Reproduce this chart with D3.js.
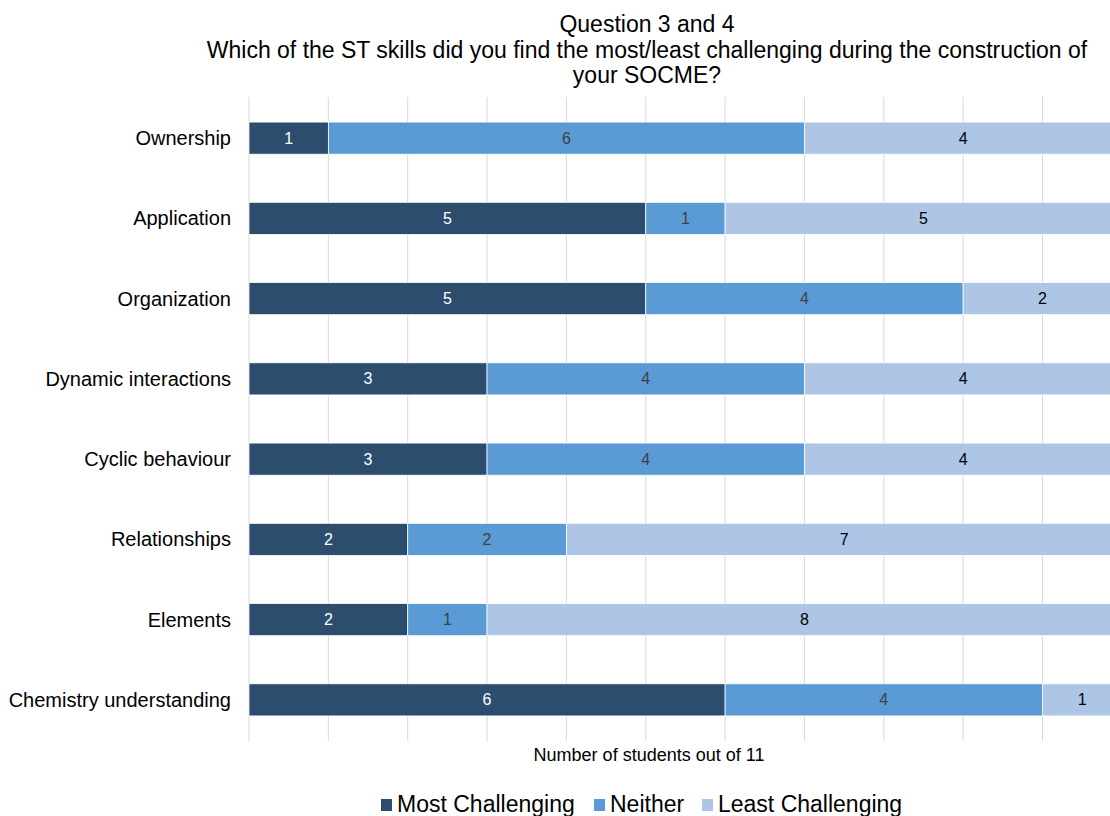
<!DOCTYPE html>
<html><head><meta charset="utf-8">
<script src="https://cdn.jsdelivr.net/npm/d3@7"></script>
<style>body{margin:0;background:#fff;} svg{display:block;font-family:"Liberation Sans",Arial,sans-serif;}</style>
</head><body>
<svg id="c" width="1110" height="816"></svg>
<script>
const categories = ["Ownership","Application","Organization","Dynamic interactions","Cyclic behaviour","Relationships","Elements","Chemistry understanding"];
const mostChallenging = [1,5,5,3,3,2,2,6];
const neither = [6,1,4,4,4,2,1,4];
const leastChallenging = [4,5,2,4,4,7,8,1];
const seriesNames = ["Most Challenging","Neither","Least Challenging"];
const seriesColors = ["#2C4D6E","#5B9BD5","#ADC6E6"];
const labelColors = ["#ffffff","#404040","#000000"];
const xTicks = d3.range(0,12);
const titleLines = ["Question 3 and 4","Which of the ST skills did you find the most/least challenging during the construction of","your SOCME?"];
const xTitle = "Number of students out of 11";

const svg = d3.select("#c");
const x = d3.scaleLinear().domain([0,11]).range([249, 249 + 11*79.35]);
const y = d3.scaleBand().domain(categories).range([98, 740]).paddingInner(0.6).paddingOuter(0.3);

// gridlines
svg.append("g").selectAll("line").data(xTicks).join("line")
  .attr("x1", d=>x(d)).attr("x2", d=>x(d)).attr("y1", 97).attr("y2", 741)
  .attr("stroke", "#d9d9d9").attr("stroke-width", 1);

const rows = categories.map((c,i)=>({cat:c, vals:[mostChallenging[i], neither[i], leastChallenging[i]]}));
const stackData = rows.map(r=>{const o={cat:r.cat}; seriesNames.forEach((s,j)=>o[s]=r.vals[j]); return o;});
const stacked = d3.stack().keys(seriesNames)(stackData);

stacked.forEach((layer, si)=>{
  const g = svg.append("g");
  g.selectAll("rect").data(layer).join("rect")
    .attr("x", d=>x(d[0])).attr("width", d=>x(d[1])-x(d[0]))
    .attr("y", d=>y(d.data.cat)).attr("height", y.bandwidth())
    .attr("fill", seriesColors[si]).attr("stroke", "#fff").attr("stroke-width", 0.75);
  g.selectAll("text").data(layer).join("text")
    .attr("x", d=>(x(d[0])+x(d[1]))/2).attr("y", d=>y(d.data.cat)+y.bandwidth()/2)
    .attr("dy", "0.35em").attr("text-anchor","middle").attr("font-size", 16)
    .attr("fill", labelColors[si]).text(d=>d[1]-d[0]);
});

// category labels
svg.append("g").selectAll("text").data(categories).join("text")
  .attr("x", 231).attr("y", d=>y(d)+y.bandwidth()/2).attr("dy","0.35em")
  .attr("text-anchor","end").attr("font-size", 20).attr("fill","#000").text(d=>d);

// title
svg.append("g").selectAll("text").data(titleLines).join("text")
  .attr("x", 647).attr("y", (d,i)=>32 + i*25.6).attr("text-anchor","middle")
  .attr("font-size", 23).attr("fill","#000").text(d=>d);

svg.append("text").attr("x", 649).attr("y", 761).attr("text-anchor","middle")
  .attr("font-size", 18).attr("fill","#000").text(xTitle);

// legend
const legendX = [381, 594, 702];
const lg = svg.append("g");
seriesNames.forEach((s,i)=>{
  lg.append("rect").attr("x", legendX[i]).attr("y", 799).attr("width", 11).attr("height", 12).attr("fill", seriesColors[i]);
  lg.append("text").attr("x", legendX[i]+16).attr("y", 812).attr("font-size", 23).attr("fill","#000").text(s);
});
</script>
</body></html>
